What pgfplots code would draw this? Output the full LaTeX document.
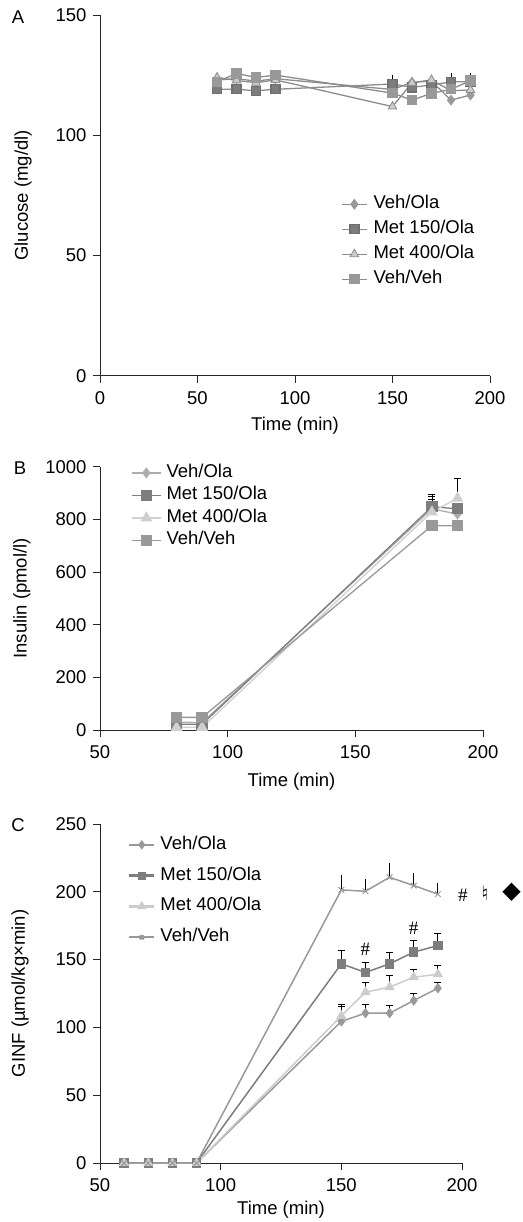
\documentclass[border=0pt]{standalone}
\usepackage{pgfplots}
\pgfplotsset{compat=1.18}
\usepackage{fontspec}
\setmainfont{Liberation Sans}
\newfontfamily\symfont{DejaVu Sans}
\newfontfamily\serfont{Liberation Serif}
\newcommand\f{\fontsize{18.5}{22}\selectfont}
\definecolor{lnA}{gray}{0.55}
\definecolor{dk}{gray}{0.49}
\definecolor{md}{gray}{0.60}
\definecolor{lt}{gray}{0.80}
\definecolor{lt2}{gray}{0.68}
\begin{document}
\begin{tikzpicture}
\useasboundingbox (0,0) rectangle (522pt,1222pt);
\pgfplotsset{
  common/.style={
    scale only axis,
    axis lines=left,
    axis line style={-, line width=0.8pt, black!85},
    tick align=outside,
    major tick length=7pt,
    tick style={line width=0.8pt, black!85},
    tick label style={font=\f},
    xticklabel style={yshift=-5pt},
    yticklabel style={xshift=-3pt},
    /pgf/number format/assume math mode=true,
    /pgf/number format/1000 sep={},
    label style={font=\f},
    xlabel style={at={(axis description cs:0.5,0)}, anchor=center},
    legend cell align=left,
    clip=false,
  },
  errp/.style={forget plot, draw=none, mark=none,
    error bars/.cd, y dir=plus, y explicit,
    error bar style={draw=black, line width=0.8pt},
    error mark options={draw=black, rotate=90, mark size=3.5pt, line width=0.8pt}},
  errn/.style={forget plot, draw=none, mark=none,
    error bars/.cd, y dir=plus, y explicit, error mark=none,
    error bar style={draw=black, line width=1pt}},
}
% ---------------- A ----------------
\begin{axis}[common,
  at={(100pt,846.3pt)}, anchor=south west,
  width=390pt, height=360.7pt,
  xmin=0, xmax=200, ymin=0, ymax=150,
  xtick={0,50,100,150,200}, ytick={0,50,100,150},
  xlabel={Time (min)}, ylabel={Glucose (mg/dl)},
  xlabel style={yshift=-50pt},
  ylabel style={at={(axis description cs:-0.197,0.5)}, anchor=center},
  legend style={draw=none, fill=none, font=\f, at={(axis description cs:0.618,0.505)}, anchor=north west, inner sep=0pt, row sep=4pt, nodes={inner sep=2pt, text height=13pt, text depth=4pt}, /tikz/every odd column/.append style={column sep=4pt}},
  legend image code/.code={\draw[mark repeat=2,mark phase=2,#1] plot coordinates {(0pt,0pt)(12.5pt,0pt)(25pt,0pt)};},
]
\addplot[errn] coordinates {(150,121.3) +- (0,3.7) (180,122.2) +- (0,3.5) (190,122.2) +- (0,3.8)};
\addplot[color=lnA, line width=1.3pt, mark=diamond*, mark size=4.5pt, mark options={fill=md, draw=md}] coordinates {
(60,123)(70,123.5)(80,122.5)(90,123.5)(150,119)(160,122)(170,122.5)(180,114.6)(190,116.7)};
\addlegendentry{Veh/Ola}
\addplot[color=lnA, line width=1.3pt, mark=square*, mark size=4.5pt, mark options={fill=dk, draw=dk!90!black}] coordinates {
(60,119.1)(70,119.1)(80,118.5)(90,119.1)(150,121.3)(160,119.9)(170,120.9)(180,122.2)(190,122.2)};
\addlegendentry{Met 150/Ola}
\addplot[color=lnA, line width=1.3pt, mark=triangle*, mark size=5pt, mark options={fill=lt, draw=lnA, line width=0.8pt}] coordinates {
(60,124)(70,122.8)(80,121.8)(90,123)(150,111.9)(160,121.8)(170,123)(180,118.5)(190,118.8)};
\addlegendentry{Met 400/Ola}
\addplot[color=lnA, line width=1.3pt, mark=square*, mark size=4.5pt, mark options={fill=md, draw=md}] coordinates {
(60,122.2)(70,125.7)(80,124)(90,125)(150,117.5)(160,114.6)(170,117.4)(180,119.1)(190,122.7)};
\addlegendentry{Veh/Veh}
\end{axis}
\node[font=\f] at (18pt,1205pt) {A};
% ---------------- B ----------------
\begin{axis}[common,
  at={(100pt,492pt)}, anchor=south west,
  width=383pt, height=263.3pt,
  xmin=50, xmax=200, ymin=0, ymax=1000,
  xtick={50,100,150,200}, ytick={0,200,400,600,800,1000},
  xlabel={Time (min)}, ylabel={Insulin (pmol/l)},
  xlabel style={yshift=-52pt},
  ylabel style={at={(axis description cs:-0.204,0.5)}, anchor=center},
  legend style={draw=none, fill=none, font=\f, at={(axis description cs:0.081,1.017)}, anchor=north west, inner sep=0pt, row sep=1.5pt, nodes={inner sep=2pt, text height=13pt, text depth=4pt}, /tikz/every odd column/.append style={column sep=3pt}},
  legend image code/.code={\draw[mark repeat=2,mark phase=2,#1] plot coordinates {(0pt,0pt)(14.5pt,0pt)(29pt,0pt)};},
]
\addplot[errp] coordinates {(180,840) +- (0,56) (180,848) +- (0,38) (180,828) +- (0,48) (190,880) +- (0,75)};
\addplot[color=lt2, line width=1.3pt, mark=diamond*, mark size=4.5pt, mark options={fill=lt2, draw=lt2}] coordinates {
(80,30)(90,28)(180,840)(190,820)};
\addlegendentry{Veh/Ola}
\addplot[color=dk, line width=1.3pt, mark=square*, mark size=5pt, mark options={fill=dk, draw=dk}] coordinates {
(80,22)(90,22)(180,848)(190,840)};
\addlegendentry{Met 150/Ola}
\addplot[color=lt!95!white, line width=1.3pt, mark=triangle*, mark size=5.5pt, mark options={fill=lt!95!white, draw=lt!95!white}] coordinates {
(80,10)(90,10)(180,828)(190,880)};
\addlegendentry{Met 400/Ola}
\addplot[color=md, line width=1.3pt, mark=square*, mark size=5pt, mark options={fill=md, draw=md}] coordinates {
(80,48)(90,48)(180,776)(190,776)};
\addlegendentry{Veh/Veh}
\end{axis}
\node[font=\f] at (20pt,754pt) {B};
% ---------------- C ----------------
\begin{axis}[common,
  at={(100pt,59pt)}, anchor=south west,
  width=362pt, height=339pt,
  xmin=50, xmax=200, ymin=0, ymax=250,
  xtick={50,100,150,200}, ytick={0,50,100,150,200,250},
  xlabel={Time (min)}, ylabel={GINF (µmol/kg×min)},
  xlabel style={yshift=-47pt},
  ylabel style={at={(axis description cs:-0.221,0.5)}, anchor=center},
  legend style={draw=none, fill=none, font=\f, at={(axis description cs:0.077,0.970)}, anchor=north west, inner sep=0pt, row sep=9.8pt, nodes={inner sep=2pt, text height=13pt, text depth=4pt}, /tikz/every odd column/.append style={column sep=3pt}},
  legend image code/.code={\draw[mark repeat=2,mark phase=2,#1, line width=2.4pt, mark options={scale=0.7}] plot coordinates {(0pt,0pt)(12.5pt,0pt)(25pt,0pt)};},
]
\addplot[errp] coordinates {(150,104.4) +- (0,12.2) (160,110.5) +- (0,6.6) (170,110.5) +- (0,5.7) (180,119.8) +- (0,5.4) (190,128.9) +- (0,4.2)};
\addplot[errp] coordinates {(150,146.9) +- (0,9.8) (160,140.5) +- (0,7.3) (170,146.9) +- (0,8.3) (180,155.5) +- (0,8.5) (190,160.4) +- (0,8.6)};
\addplot[errp] coordinates {(150,108.5) +- (0,6.9) (160,126) +- (0,7) (170,129.7) +- (0,8.6) (180,137) +- (0,6) (190,139.2) +- (0,6.4)};
\addplot[errn] coordinates {(150,201.4) +- (0,11) (160,200.4) +- (0,9.1) (170,210.7) +- (0,10.8) (180,204.6) +- (0,9) (190,198.3) +- (0,8.5)};
\addplot[color=md, line width=1.5pt, mark=diamond*, mark size=4pt, mark options={fill=md, draw=md}] coordinates {
(60,0)(70,0)(80,0)(90,0)(150,104.4)(160,110.5)(170,110.5)(180,119.8)(190,128.9)};
\addlegendentry{Veh/Ola}
\addplot[color=dk, line width=1.5pt, mark=square*, mark size=4pt, mark options={fill=dk, draw=dk}] coordinates {
(60,0)(70,0)(80,0)(90,0)(150,146.9)(160,140.5)(170,146.9)(180,155.5)(190,160.4)};
\addlegendentry{Met 150/Ola}
\addplot[color=lt, line width=1.5pt, mark=triangle*, mark size=4.5pt, mark options={fill=lt, draw=lt}] coordinates {
(60,0)(70,0)(80,0)(90,0)(150,108.5)(160,126)(170,129.7)(180,137)(190,139.2)};
\addlegendentry{Met 400/Ola}
\addplot[color=md, line width=1.5pt, mark=x, mark size=4pt, mark options={draw=md, line width=1pt}] coordinates {
(60,0)(70,0)(80,0)(90,0)(150,201.4)(160,200.4)(170,210.7)(180,204.6)(190,198.3)};
\addlegendentry{Veh/Veh}
\node[font=\serfont\fontsize{19}{20}\selectfont] at (axis cs:160,157.7) {\#};
\node[font=\serfont\fontsize{19}{20}\selectfont] at (axis cs:180,173) {\#};
\node[font=\serfont\fontsize{19}{20}\selectfont] at (axis cs:200.4,197.6) {\#};
\node[font=\symfont\bfseries\fontsize{20}{20}\selectfont] at (axis cs:209.5,199.3) {♮};
\node[font=\symfont\fontsize{24}{24}\selectfont] at (axis cs:220.6,199.3) {◆};
\end{axis}
\node[font=\f] at (18pt,397pt) {C};
\end{tikzpicture}
\end{document}
